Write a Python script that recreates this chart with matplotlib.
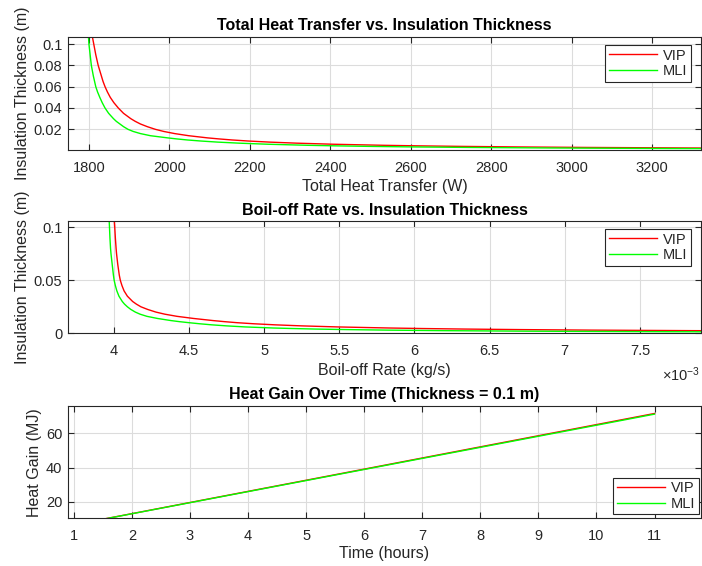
import numpy as np
import matplotlib
matplotlib.use('Agg')
import matplotlib.pyplot as plt
from matplotlib.ticker import FuncFormatter

plt.rcParams['font.family'] = ['Liberation Sans', 'DejaVu Sans']
plt.rcParams['mathtext.fontset'] = 'custom'
plt.rcParams['mathtext.rm'] = 'Liberation Sans'
plt.rcParams['mathtext.it'] = 'Liberation Sans'

# ---- data ----
thickness = [0.106, 0.1, 0.09, 0.085, 0.08, 0.075, 0.07, 0.065, 0.06, 0.055,
             0.05, 0.045, 0.04, 0.035, 0.03, 0.0275, 0.025, 0.0225, 0.02, 0.018,
             0.016, 0.014, 0.012, 0.011, 0.01, 0.009, 0.008, 0.007, 0.006, 0.005,
             0.0045, 0.004, 0.0035, 0.003, 0.0025, 0.002, 0.0015, 0.0012]

# total heat transfer (W)
q_vip = [1809, 1812, 1817, 1820, 1823, 1827, 1831, 1835, 1840, 1846,
         1853, 1862, 1873, 1886, 1904, 1915, 1928, 1945, 1965, 1986,
         2013, 2048, 2094, 2123, 2156, 2197, 2249, 2317, 2408, 2533,
         2617, 2722, 2858, 3038, 3290, 3670, 4300, 4930]
q_mli = [1799, 1800, 1803, 1804.5, 1806, 1808.5, 1811, 1814, 1817, 1821.5,
         1827, 1833, 1840, 1849, 1861, 1868, 1877, 1886, 1897, 1910,
         1928, 1953, 1995, 2018, 2045, 2079, 2120, 2174, 2245, 2345,
         2411, 2495, 2601, 2744, 2944, 3243, 3742, 4240]

# boil-off rate (kg/s)
bor_vip = [4.003e-3, 4.006e-3, 4.010e-3, 4.0125e-3, 4.015e-3, 4.018e-3, 4.022e-3,
           4.026e-3, 4.031e-3, 4.036e-3, 4.043e-3, 4.054e-3, 4.068e-3, 4.090e-3,
           4.125e-3, 4.150e-3, 4.180e-3, 4.225e-3, 4.280e-3, 4.340e-3, 4.420e-3,
           4.530e-3, 4.660e-3, 4.735e-3, 4.820e-3, 4.930e-3, 5.070e-3, 5.250e-3,
           5.490e-3, 5.830e-3, 6.050e-3, 6.330e-3, 6.700e-3, 7.170e-3, 7.850e-3,
           8.850e-3, 10.50e-3, 12.20e-3]
bor_mli = [3.969e-3, 3.971e-3, 3.974e-3, 3.976e-3, 3.978e-3, 3.981e-3, 3.985e-3,
           3.989e-3, 3.993e-3, 3.997e-3, 4.002e-3, 4.010e-3, 4.020e-3, 4.034e-3,
           4.056e-3, 4.071e-3, 4.090e-3, 4.113e-3, 4.143e-3, 4.175e-3, 4.220e-3,
           4.290e-3, 4.380e-3, 4.435e-3, 4.500e-3, 4.570e-3, 4.650e-3, 4.750e-3,
           4.875e-3, 5.060e-3, 5.190e-3, 5.340e-3, 5.550e-3, 5.815e-3, 6.190e-3,
           6.750e-3, 7.690e-3, 8.630e-3]

# heat gain over time at 0.1 m
hours = [1, 2, 3, 4, 5, 6, 7, 8, 9, 10, 11]
gain_vip = [6.51, 13.02, 19.54, 26.05, 32.56, 39.07, 45.58, 52.10, 58.61, 65.12, 71.63]
gain_mli = [6.48, 12.95, 19.43, 25.91, 32.38, 38.86, 45.34, 51.81, 58.29, 64.76, 71.24]

# ---- style ----
EDGE = '#262626'
TICK_FS = 10.5
LABEL_FS = 11.5
TITLE_FS = 11.5


def style_axes(ax):
    for s in ax.spines.values():
        s.set_color(EDGE)
        s.set_linewidth(0.8)
    ax.tick_params(direction='in', top=True, right=True, length=4.5, width=0.8,
                   color=EDGE, labelcolor=EDGE, labelsize=TICK_FS)
    ax.tick_params(axis='x', pad=8)
    ax.tick_params(axis='y', pad=4)
    ax.grid(True, color='#dcdcdc', linewidth=0.8)
    ax.set_axisbelow(True)


def add_legend(ax, loc, anchor):
    leg = ax.legend(loc=loc, bbox_to_anchor=anchor, bbox_transform=ax.transAxes,
                    fancybox=False, framealpha=1, edgecolor=EDGE,
                    fontsize=TICK_FS, handlelength=3.3, handletextpad=0.4,
                    borderpad=0.25, labelspacing=0.1, borderaxespad=0)
    leg.get_frame().set_linewidth(0.8)
    for t in leg.get_texts():
        t.set_color(EDGE)


fig = plt.figure(figsize=(7.02, 5.66), dpi=100)
W, H = 702, 566


def px_axes(left, top, right, bottom):
    return fig.add_axes([left / W, 1 - bottom / H, (right - left) / W, (bottom - top) / H])


# panel 1
ax1 = px_axes(68, 37, 701, 150)
ax1.plot(q_vip, thickness, color='red', lw=1.0, label='VIP')
ax1.plot(q_mli, thickness, color='#00ff00', lw=1.0, label='MLI')
ax1.set_xlim(1748, 3321)
ax1.set_ylim(0.0006, 0.1066)
ax1.set_xticks(np.arange(1800, 3201, 200))
ax1.set_yticks([0.02, 0.04, 0.06, 0.08, 0.1])
ax1.set_yticklabels(['0.02', '0.04', '0.06', '0.08', '0.1'])
style_axes(ax1)
ax1.set_xlabel('Total Heat Transfer (W)', fontsize=LABEL_FS, color=EDGE, labelpad=3)
ax1.set_ylabel('Insulation Thickness (m)', fontsize=LABEL_FS, color=EDGE, labelpad=3)
ax1.set_title('Total Heat Transfer vs. Insulation Thickness', fontsize=TITLE_FS,
              fontweight='bold', pad=5)
add_legend(ax1, 'upper right', (0.984, 0.93))

# panel 2
ax2 = px_axes(68, 221, 701, 333.3)
ax2.plot(bor_vip, thickness, color='red', lw=1.0, label='VIP')
ax2.plot(bor_mli, thickness, color='#00ff00', lw=1.0, label='MLI')
ax2.set_xlim(3.695e-3, 7.906e-3)
ax2.set_ylim(0, 0.1059)
ax2.set_xticks([4e-3, 4.5e-3, 5e-3, 5.5e-3, 6e-3, 6.5e-3, 7e-3, 7.5e-3])
ax2.set_yticks([0, 0.05, 0.1])
ax2.set_yticklabels(['0', '0.05', '0.1'])
ax2.xaxis.set_major_formatter(FuncFormatter(lambda v, p: f'{v * 1e3:g}'))
style_axes(ax2)
fig.text(700 / W, 1 - 375 / H, r'$\times 10^{-3}$', ha='right', va='center',
         fontsize=TICK_FS, color=EDGE)
ax2.set_xlabel('Boil-off Rate (kg/s)', fontsize=LABEL_FS, color=EDGE, labelpad=3)
ax2.set_ylabel('Insulation Thickness (m)', fontsize=LABEL_FS, color=EDGE, labelpad=3)
ax2.set_title('Boil-off Rate vs. Insulation Thickness', fontsize=TITLE_FS,
              fontweight='bold', pad=4)
add_legend(ax2, 'upper right', (0.984, 0.93))

# panel 3
ax3 = px_axes(68, 406, 701, 518.3)
ax3.plot(hours, gain_vip, color='red', lw=1.0, label='VIP')
ax3.plot(hours, gain_mli, color='#00ff00', lw=1.0, label='MLI')
ax3.set_xlim(0.9, 11.8)
ax3.set_ylim(10.3, 76)
ax3.set_xticks(range(1, 12))
ax3.set_yticks([20, 40, 60])
style_axes(ax3)
ax3.set_xlabel('Time (hours)', fontsize=LABEL_FS, color=EDGE, labelpad=2)
ax3.set_ylabel('Heat Gain (MJ)', fontsize=LABEL_FS, color=EDGE, labelpad=3)
ax3.set_title('Heat Gain Over Time (Thickness = 0.1 m)', fontsize=TITLE_FS,
              fontweight='bold', pad=5)
add_legend(ax3, 'lower right', (0.997, 0.035))

fig.savefig('out.png', dpi=100)
